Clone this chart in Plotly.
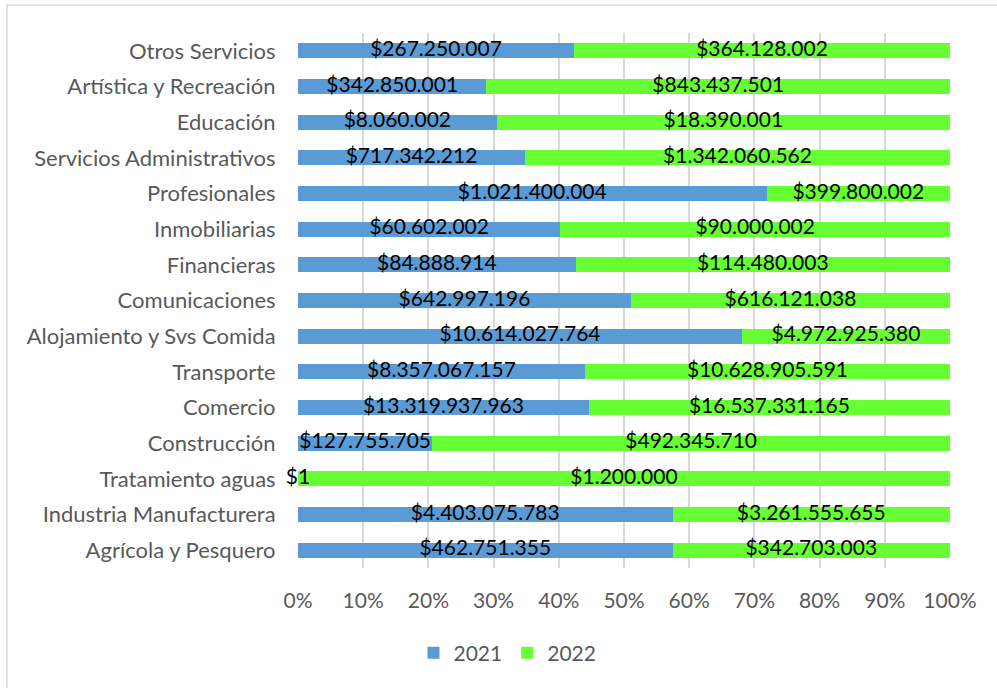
import plotly.graph_objects as go

categories = ["Otros Servicios", "Artística y Recreación", "Educación", "Servicios Administrativos",
              "Profesionales", "Inmobiliarias", "Financieras", "Comunicaciones",
              "Alojamiento y Svs Comida", "Transporte", "Comercio", "Construcción",
              "Tratamiento aguas", "Industria Manufacturera", "Agrícola y Pesquero"]
v2021 = [267250007, 342850001, 8060002, 717342212, 1021400004, 60602002, 84888914, 642997196,
         10614027764, 8357067157, 13319937963, 127755705, 1, 4403075783, 462751355]
v2022 = [364128002, 843437501, 18390001, 1342060562, 399800002, 90000002, 114480003, 616121038,
         4972925380, 10628905591, 16537331165, 492345710, 1200000, 3261555655, 342703003]
labels2021 = ["$267.250.007", "$342.850.001", "$8.060.002", "$717.342.212", "$1.021.400.004",
              "$60.602.002", "$84.888.914", "$642.997.196", "$10.614.027.764", "$8.357.067.157",
              "$13.319.937.963", "$127.755.705", "$1", "$4.403.075.783", "$462.751.355"]
labels2022 = ["$364.128.002", "$843.437.501", "$18.390.001", "$1.342.060.562", "$399.800.002",
              "$90.000.002", "$114.480.003", "$616.121.038", "$4.972.925.380", "$10.628.905.591",
              "$16.537.331.165", "$492.345.710", "$1.200.000", "$3.261.555.655", "$342.703.003"]
tick_vals = [0, 10, 20, 30, 40, 50, 60, 70, 80, 90, 100]
tick_text = ["0%", "10%", "20%", "30%", "40%", "50%", "60%", "70%", "80%", "90%", "100%"]

FONT = "Lato"
GRAY = "#595959"

p21 = [100 * a / (a + b) for a, b in zip(v2021, v2022)]
p22 = [100 * b / (a + b) for a, b in zip(v2021, v2022)]
mid21 = [p / 2 for p in p21]
mid22 = [a + b / 2 for a, b in zip(p21, p22)]

fig = go.Figure()
fig.add_trace(go.Bar(y=categories, x=p21, orientation="h", name="2021",
                     marker=dict(color="#5B9BD5", line_width=0), hoverinfo="skip"))
fig.add_trace(go.Bar(y=categories, x=p22, orientation="h", name="2022",
                     marker=dict(color="#66FF33", line_width=0), hoverinfo="skip"))
fig.add_trace(go.Scatter(y=categories, x=mid21, mode="text", text=labels2021,
                         textfont=dict(family=FONT, size=21, color="black"), cliponaxis=False,
                         showlegend=False, hoverinfo="skip"))
fig.add_trace(go.Scatter(y=categories, x=mid22, mode="text", text=labels2022,
                         textfont=dict(family=FONT, size=21, color="black"), cliponaxis=False,
                         showlegend=False, hoverinfo="skip"))

L, R, T, B = 298, 47, 33, 120
W, H = 997, 688
pw = W - L - R
ph = H - T - B

fig.update_layout(
    width=W, height=H,
    barmode="stack", bargap=0.58,
    margin=dict(l=L, r=R, t=T, b=B, autoexpand=False),
    plot_bgcolor="white", paper_bgcolor="white",
    font=dict(family=FONT, size=22, color=GRAY),
    xaxis=dict(range=[0, 100], tickvals=tick_vals, ticktext=tick_text, automargin=False,
               showgrid=True, gridcolor="#D9D9D9", gridwidth=1.5, zeroline=False,
               ticks="outside", ticklen=14, tickcolor="rgba(0,0,0,0)",
               tickfont=dict(family=FONT, size=21, color=GRAY), fixedrange=True),
    yaxis=dict(categoryorder="array", categoryarray=categories[::-1], automargin=False,
               range=[-0.5, len(categories) - 0.5],
               ticks="outside", ticklen=17, tickcolor="rgba(0,0,0,0)",
               tickfont=dict(family=FONT, size=22, color=GRAY), showgrid=False,
               fixedrange=True),
    legend=dict(orientation="h", xref="container", yref="container",
                x=0.509, y=1 - 653 / H, xanchor="center", yanchor="middle",
                font=dict(family=FONT, size=21, color=GRAY), traceorder="normal"),
    shapes=[dict(type="rect", xref="paper", yref="paper",
                 x0=(7 - L) / pw, x1=(W + 5 - L) / pw,
                 y0=(H - (H + 5) - B) / ph, y1=(H - 5 - B) / ph,
                 line=dict(color="#D9D9D9", width=1.5), fillcolor="rgba(0,0,0,0)", layer="below")],
)

fig.write_html("out.html", config={"displayModeBar": False},
               post_script="document.body.style.margin='0';")
